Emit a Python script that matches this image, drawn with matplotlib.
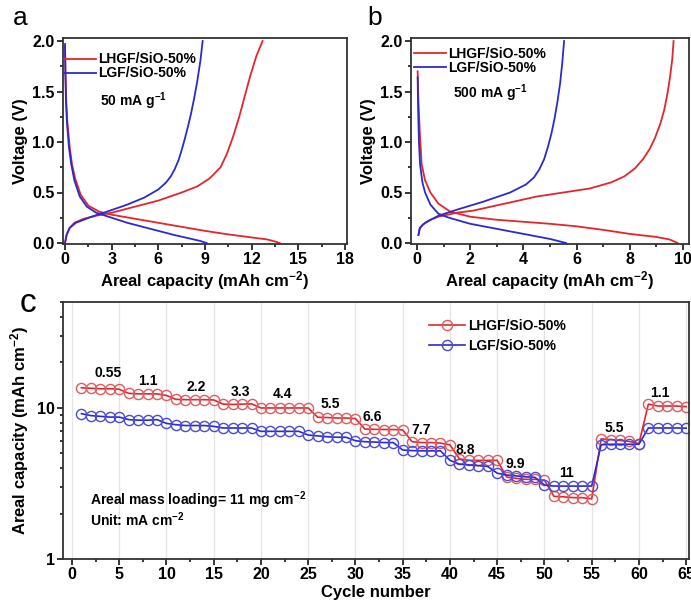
import numpy as np
import matplotlib
matplotlib.use("Agg")
import matplotlib.pyplot as plt
from matplotlib.ticker import MultipleLocator, LogLocator, NullFormatter

plt.rcParams['font.family'] = ['Liberation Sans', 'DejaVu Sans']
plt.rcParams['font.weight'] = 'bold'
plt.rcParams['mathtext.fontset'] = 'custom'
plt.rcParams['mathtext.bf'] = 'Liberation Sans:bold'
plt.rcParams['mathtext.rm'] = 'Liberation Sans:bold'
plt.rcParams['mathtext.default'] = 'bf'

RED = '#e3262b'
BLUE = '#2a2ad0'
RED_M = '#e05a5e'
BLUE_M = '#4a4ad8'

# ---- panel a: 50 mA g-1 ----
a_red_dis_x = [0, 0.03, 0.08, 0.15, 0.3, 0.45, 0.65, 1.0, 1.5, 2.2, 3, 4.5, 6, 7.5, 9, 10.5, 12, 13, 13.5, 13.8]
a_red_dis_y = [1.95, 1.7, 1.4, 1.2, 0.95, 0.78, 0.64, 0.48, 0.37, 0.31, 0.28, 0.24, 0.2, 0.16, 0.12, 0.085, 0.055, 0.035, 0.015, 0.0]
a_red_chg_x = [0, 0.1, 0.3, 0.6, 1.2, 2, 3, 4.5, 6, 7.5, 8.5, 9.3, 10.0, 10.4, 10.8, 11.2, 11.55, 11.9, 12.3, 12.7]
a_red_chg_y = [0, 0.08, 0.15, 0.2, 0.24, 0.27, 0.3, 0.36, 0.42, 0.5, 0.56, 0.64, 0.75, 0.88, 1.05, 1.25, 1.45, 1.65, 1.85, 2.0]
a_blue_dis_x = [0, 0.02, 0.06, 0.12, 0.25, 0.4, 0.6, 0.95, 1.4, 2.0, 3, 4, 5, 6, 7, 8, 8.7, 9.1]
a_blue_dis_y = [1.97, 1.7, 1.4, 1.2, 0.95, 0.78, 0.62, 0.46, 0.36, 0.3, 0.25, 0.2, 0.16, 0.12, 0.08, 0.045, 0.02, 0.0]
a_blue_chg_x = [0, 0.1, 0.3, 0.7, 1.7, 2.5, 4, 5.1, 6, 6.5, 6.8, 7.05, 7.3, 7.5, 7.7, 7.9, 8.1, 8.3, 8.5, 8.7, 8.85]
a_blue_chg_y = [0, 0.08, 0.15, 0.2, 0.26, 0.3, 0.38, 0.45, 0.53, 0.6, 0.66, 0.73, 0.82, 0.92, 1.03, 1.15, 1.28, 1.43, 1.6, 1.8, 2.0]

# ---- panel b: 500 mA g-1 ----
b_red_dis_x = [0.02, 0.05, 0.1, 0.17, 0.3, 0.5, 0.8, 1.25, 2, 3, 4, 5, 6, 7, 8, 9, 9.5, 9.8]
b_red_dis_y = [1.70, 1.4, 1.1, 0.78, 0.62, 0.5, 0.39, 0.31, 0.26, 0.23, 0.21, 0.19, 0.165, 0.13, 0.09, 0.06, 0.035, 0.0]
b_red_chg_x = [0.05, 0.1, 0.2, 0.5, 0.8, 1.5, 2.1, 3.3, 4.5, 5.5, 6.5, 7.3, 7.8, 8.2, 8.5, 8.75, 8.95, 9.15, 9.3, 9.42, 9.52, 9.6, 9.65]
b_red_chg_y = [0.08, 0.14, 0.18, 0.23, 0.26, 0.3, 0.32, 0.39, 0.46, 0.5, 0.54, 0.6, 0.66, 0.74, 0.83, 0.93, 1.04, 1.18, 1.32, 1.48, 1.65, 1.82, 2.0]
b_blue_dis_x = [0.02, 0.04, 0.07, 0.11, 0.2, 0.3, 0.5, 0.8, 1.2, 2, 3, 4, 5, 5.6]
b_blue_dis_y = [1.64, 1.3, 1.0, 0.78, 0.6, 0.5, 0.38, 0.29, 0.25, 0.19, 0.14, 0.09, 0.04, 0.0]
b_blue_chg_x = [0.05, 0.1, 0.3, 0.8, 1.5, 2.5, 3.5, 4.1, 4.4, 4.6, 4.78, 4.92, 5.05, 5.17, 5.28, 5.38, 5.46, 5.53]
b_blue_chg_y = [0.08, 0.15, 0.2, 0.27, 0.33, 0.41, 0.5, 0.58, 0.65, 0.73, 0.83, 0.95, 1.08, 1.23, 1.4, 1.58, 1.78, 2.0]

# ---- panel c: rate performance ----
cycles = list(range(1, 66))
lhgf = [13.6, 13.5, 13.4, 13.4, 13.3,
        12.5, 12.4, 12.4, 12.4, 12.1,
        11.4, 11.35, 11.35, 11.35, 11.3,
        10.6, 10.55, 10.6, 10.65, 10.0,
        10.0, 10.0, 10.0, 10.0, 10.0,
        8.68, 8.64, 8.58, 8.58, 8.5,
        7.25, 7.22, 7.2, 7.2, 7.15,
        5.98, 5.9, 5.9, 5.85, 5.7,
        4.6, 4.5, 4.5, 4.5, 4.5,
        3.49, 3.42, 3.37, 3.37, 3.33,
        2.6, 2.58, 2.55, 2.55, 2.5,
        6.24, 6.17, 6.1, 6.0, 5.8,
        10.6, 10.3, 10.3, 10.3, 10.2]
lgf = [9.17, 8.9, 8.8, 8.7, 8.7,
       8.37, 8.3, 8.3, 8.37, 7.9,
       7.75, 7.65, 7.65, 7.65, 7.55,
       7.37, 7.37, 7.37, 7.37, 7.0,
       7.0, 7.0, 7.0, 7.0, 6.62,
       6.53, 6.45, 6.4, 6.4, 6.07,
       5.98, 5.95, 5.9, 5.9, 5.27,
       5.22, 5.2, 5.2, 5.2, 4.5,
       4.25, 4.2, 4.15, 4.1, 3.7,
       3.6, 3.55, 3.5, 3.47, 3.09,
       3.04, 3.04, 3.04, 3.04, 3.04,
       5.7, 5.75, 5.75, 5.75, 5.75,
       7.37, 7.37, 7.37, 7.37, 7.35]
rate_labels = ['0.55', '1.1', '2.2', '3.3', '4.4', '5.5', '6.6', '7.7', '8.8', '9.9', '11', '5.5', '1.1']
label_x = [3.8, 8.0, 13.1, 17.8, 22.3, 27.3, 31.8, 37.0, 41.6, 46.9, 52.3, 57.4, 62.2]
label_y = [17.1, 15.1, 13.8, 12.8, 12.4, 10.6, 8.7, 7.1, 5.3, 4.25, 3.7, 7.4, 12.6]

W, H = 691, 602
fig = plt.figure(figsize=(W / 100, H / 100), dpi=100)


def box(l, t, r, b):
    return [l / W, 1 - b / H, (r - l) / W, (b - t) / H]


def style_axes(ax):
    for s in ax.spines.values():
        s.set_linewidth(1.3)
        s.set_color('#333333')
    ax.tick_params(which='both', direction='out', width=1.1, labelsize=11.5, pad=2)
    ax.tick_params(which='major', length=4)
    ax.tick_params(which='minor', length=2.5)
    for lab in ax.get_xticklabels() + ax.get_yticklabels():
        lab.set_fontweight('bold')


def voltage_panel(ax, curves, xmax, xstep, rate_text, leg_anchor, text_pos):
    (rdx, rdy), (rcx, rcy), (bdx, bdy), (bcx, bcy) = curves
    ax.plot(rdx, rdy, color=RED, lw=1.3, label='LHGF/SiO-50%')
    ax.plot(rcx, rcy, color=RED, lw=1.3)
    ax.plot(bdx, bdy, color=BLUE, lw=1.3, label='LGF/SiO-50%')
    ax.plot(bcx, bcy, color=BLUE, lw=1.3)
    ax.set_ylim(-0.01, 2.03)
    ax.set_yticks([0.0, 0.5, 1.0, 1.5, 2.0])
    ax.yaxis.set_minor_locator(MultipleLocator(0.25))
    ax.set_xticks(np.arange(0, xmax + 0.01, xstep))
    ax.xaxis.set_minor_locator(MultipleLocator(xstep / 2))
    ax.set_ylabel('Voltage (V)', fontsize=12, fontweight='bold', labelpad=3)
    ax.set_xlabel('Areal capacity (mAh cm$^{-2}$)', fontsize=12, fontweight='bold', labelpad=1)
    ax.legend(loc='upper left', bbox_to_anchor=leg_anchor, frameon=False,
              prop={'weight': 'bold', 'size': 10}, handlelength=2.3,
              handletextpad=0.15, borderpad=0, labelspacing=0.0, borderaxespad=0)
    ax.text(text_pos[0], text_pos[1], rate_text, transform=ax.transAxes,
            fontsize=10, fontweight='bold', va='center')
    style_axes(ax)


ax_a = fig.add_axes(box(63, 38, 347, 244))
voltage_panel(ax_a, [(a_red_dis_x, a_red_dis_y), (a_red_chg_x, a_red_chg_y),
                     (a_blue_dis_x, a_blue_dis_y), (a_blue_chg_x, a_blue_chg_y)],
              18, 3, '50 mA g$^{-1}$', (0.005, 0.93), (0.13, 0.695))
ax_a.set_xlim(-0.13, 18.13)

ax_b = fig.add_axes(box(411, 38, 689, 244))
voltage_panel(ax_b, [(b_red_dis_x, b_red_dis_y), (b_red_chg_x, b_red_chg_y),
                     (b_blue_dis_x, b_blue_dis_y), (b_blue_chg_x, b_blue_chg_y)],
              10, 2, '500 mA g$^{-1}$', (0.01, 0.955), (0.15, 0.73))
ax_b.set_xlim(-0.23, 10.23)

ax_c = fig.add_axes(box(63, 302, 689, 559))
ax_c.grid(axis='x', color='#e4e4e4', lw=0.9)
ax_c.set_axisbelow(True)
ax_c.plot(cycles, lhgf, color=RED, lw=1.2, marker='o', ms=7.3, mfc='none',
          mec=RED_M, mew=1.0, label='LHGF/SiO-50%')
ax_c.plot(cycles, lgf, color=BLUE, lw=1.2, marker='o', ms=7.3, mfc='none',
          mec=BLUE_M, mew=1.0, label='LGF/SiO-50%')
ax_c.set_yscale('log')
ax_c.set_ylim(1, 50.3)
ax_c.set_xlim(-0.95, 65.3)
ax_c.set_xticks(np.arange(0, 66, 5))
ax_c.xaxis.set_minor_locator(MultipleLocator(2.5))
ax_c.yaxis.set_major_locator(LogLocator(base=10))
ax_c.yaxis.set_minor_locator(LogLocator(base=10, subs=np.arange(2, 10)))
ax_c.yaxis.set_minor_formatter(NullFormatter())
ax_c.set_yticks([1, 10])
ax_c.set_yticklabels(['1', '10'])
ax_c.set_xlabel('Cycle number', fontsize=12, fontweight='bold', labelpad=2)
ax_c.set_ylabel('Areal capacity (mAh cm$^{-2}$)', fontsize=12, fontweight='bold', labelpad=4)
for lab, x, y in zip(rate_labels, label_x, label_y):
    ax_c.text(x, y, lab, fontsize=10, fontweight='bold', ha='center', va='center')
ax_c.text(0.043, 0.193, 'Areal mass loading= 11 mg cm$^{-2}$\nUnit: mA cm$^{-2}$',
          transform=ax_c.transAxes, fontsize=10, fontweight='bold', va='center',
          linespacing=0.95)
ax_c.legend(loc='upper left', bbox_to_anchor=(0.585, 0.935), frameon=False,
            prop={'weight': 'bold', 'size': 10}, handlelength=2.6,
            handletextpad=0.2, borderpad=0, labelspacing=0.45, borderaxespad=0)
style_axes(ax_c)

fig.text(20 / W, 1 - 18 / H, 'a', fontsize=19, fontweight='normal', ha='center', va='center')
fig.text(375 / W, 1 - 18 / H, 'b', fontsize=19, fontweight='normal', ha='center', va='center')
fig.text(28 / W, 1 - 303 / H, 'c', fontsize=24, fontweight='normal', ha='center', va='center')

fig.savefig('out.png', dpi=100)
